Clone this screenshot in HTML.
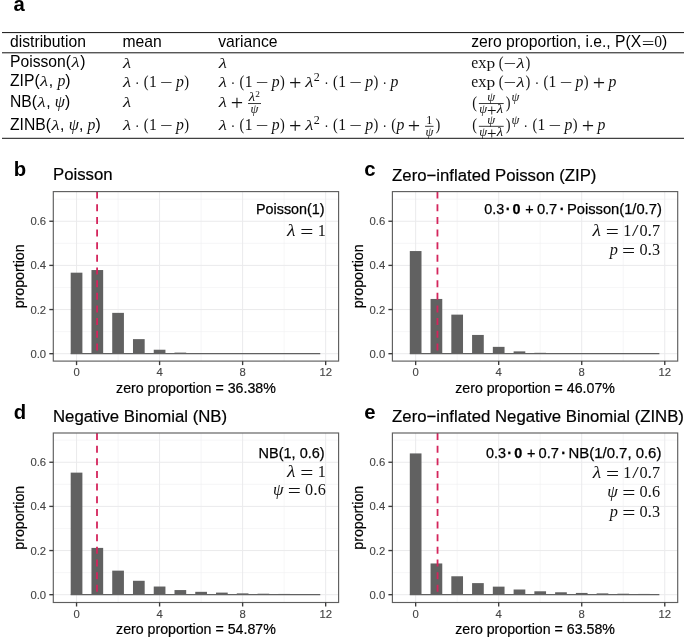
<!DOCTYPE html>
<html><head><meta charset="utf-8"><title>figure</title>
<style>
html,body{margin:0;padding:0;background:#fff;}
svg{display:block;will-change:transform;}
text{font-family:"Liberation Sans", sans-serif;fill:#111;}
.m{font-family:"Liberation Serif", serif;}
.mi{font-family:"Liberation Serif", serif;font-style:italic;}
.tk{font-size:11.3px;fill:#444;stroke:#444;stroke-width:0.12px;}
.ax{font-size:14.2px;fill:#000;stroke:#000;stroke-width:0.2px;}
.ti{font-size:16.75px;fill:#000;stroke:#000;stroke-width:0.2px;}
.lb{font-size:20.3px;font-weight:bold;fill:#000;}
.th{font-size:15.7px;fill:#000;}
.an{font-size:14.4px;fill:#000;stroke:#000;stroke-width:0.25px;}
</style></head><body>

<svg width="685" height="637" viewBox="0 0 685 637">

<rect x="0" y="0" width="685" height="637" fill="#ffffff"/>

<g>

<text class="lb" x="13.6" y="10.6">a</text>

<line x1="2" x2="684" y1="32.6" y2="32.6" stroke="#111" stroke-width="1"/>

<line x1="2" x2="684" y1="52.8" y2="52.8" stroke="#111" stroke-width="1"/>

<line x1="2" x2="684" y1="138.3" y2="138.3" stroke="#111" stroke-width="1"/>

<text class="th" x="10.00" y="46.70">distribution</text>
<text class="th" x="122.50" y="46.70">mean</text>
<text class="th" x="218.20" y="46.70">variance</text>
<text class="th" x="471.20" y="46.70">zero proportion, i.e., P(X</text>
<text class="m" font-size="15.65" fill="#333" transform="translate(641.72,48.62) scale(1.435,1.12)">=</text>
<text class="m" font-size="15.65" fill="#333" transform="translate(654.14,46.70) scale(1.000,1.0)">0</text>
<text class="th" x="661.96" y="46.70">)</text>
<text class="th" x="10.00" y="67.10">Poisson(</text>
<text class="mi" font-size="15.65" fill="#303030" transform="translate(71.54,67.10) scale(1.211,1.0)">λ</text>
<text class="th" x="80.21" y="67.10">)</text>
<text class="th" x="10.00" y="86.40">ZIP(</text>
<text class="mi" font-size="15.65" fill="#303030" transform="translate(40.11,86.40) scale(1.211,1.0)">λ</text>
<text class="th" x="48.78" y="86.40">,</text>
<text class="mi" font-size="15.65" fill="#303030" transform="translate(57.38,86.40) scale(1.006,1.0)">p</text>
<text class="th" x="65.25" y="86.40">)</text>
<text class="th" x="10.00" y="106.80">NB(</text>
<text class="mi" font-size="15.65" fill="#303030" transform="translate(37.49,106.80) scale(1.211,1.0)">λ</text>
<text class="th" x="46.16" y="106.80">,</text>
<text class="mi" font-size="15.65" fill="#303030" transform="translate(54.76,106.80) scale(1.048,1.0)">ψ</text>
<text class="th" x="64.95" y="106.80">)</text>
<text class="th" x="10.00" y="129.60">ZINB(</text>
<text class="mi" font-size="15.65" fill="#303030" transform="translate(51.45,129.60) scale(1.211,1.0)">λ</text>
<text class="th" x="60.11" y="129.60">,</text>
<text class="mi" font-size="15.65" fill="#303030" transform="translate(68.72,129.60) scale(1.048,1.0)">ψ</text>
<text class="th" x="78.90" y="129.60">,</text>
<text class="mi" font-size="15.65" fill="#303030" transform="translate(87.50,129.60) scale(1.006,1.0)">p</text>
<text class="th" x="95.38" y="129.60">)</text>
<text class="mi" font-size="15.65" fill="#303030" transform="translate(122.96,67.50) scale(1.211,1.0)">λ</text>
<text class="mi" font-size="15.65" fill="#303030" transform="translate(122.96,86.80) scale(1.211,1.0)">λ</text>
<text class="m" font-size="15.65" fill="#303030" transform="translate(135.06,88.09) scale(0.850,1.0)">·</text>
<text class="m" font-size="15.65" fill="#303030" transform="translate(143.85,87.18) scale(0.920,1.1)">(</text>
<text class="m" font-size="15.65" fill="#303030" transform="translate(149.01,86.80) scale(1.000,1.0)">1</text>
<text class="m" font-size="15.65" fill="#303030" transform="translate(160.07,88.09) scale(1.435,1.0)">−</text>
<text class="mi" font-size="15.65" fill="#303030" transform="translate(175.96,86.80) scale(1.006,1.0)">p</text>
<text class="m" font-size="15.65" fill="#303030" transform="translate(184.22,87.18) scale(0.920,1.1)">)</text>
<text class="mi" font-size="15.65" fill="#303030" transform="translate(122.96,107.20) scale(1.211,1.0)">λ</text>
<text class="mi" font-size="15.65" fill="#303030" transform="translate(122.96,130.00) scale(1.211,1.0)">λ</text>
<text class="m" font-size="15.65" fill="#303030" transform="translate(135.06,131.29) scale(0.850,1.0)">·</text>
<text class="m" font-size="15.65" fill="#303030" transform="translate(143.85,130.38) scale(0.920,1.1)">(</text>
<text class="m" font-size="15.65" fill="#303030" transform="translate(149.01,130.00) scale(1.000,1.0)">1</text>
<text class="m" font-size="15.65" fill="#303030" transform="translate(160.07,131.29) scale(1.435,1.0)">−</text>
<text class="mi" font-size="15.65" fill="#303030" transform="translate(175.96,130.00) scale(1.006,1.0)">p</text>
<text class="m" font-size="15.65" fill="#303030" transform="translate(184.22,130.38) scale(0.920,1.1)">)</text>
<text class="mi" font-size="15.65" fill="#303030" transform="translate(218.66,67.50) scale(1.211,1.0)">λ</text>
<text class="mi" font-size="15.65" fill="#303030" transform="translate(218.66,86.80) scale(1.211,1.0)">λ</text>
<text class="m" font-size="15.65" fill="#303030" transform="translate(230.76,88.09) scale(0.850,1.0)">·</text>
<text class="m" font-size="15.65" fill="#303030" transform="translate(239.55,87.18) scale(0.920,1.1)">(</text>
<text class="m" font-size="15.65" fill="#303030" transform="translate(244.71,86.80) scale(1.000,1.0)">1</text>
<text class="m" font-size="15.65" fill="#303030" transform="translate(255.77,88.09) scale(1.435,1.0)">−</text>
<text class="mi" font-size="15.65" fill="#303030" transform="translate(271.66,86.80) scale(1.006,1.0)">p</text>
<text class="m" font-size="15.65" fill="#303030" transform="translate(279.92,87.18) scale(0.920,1.1)">)</text>
<text class="m" font-size="15.65" fill="#303030" transform="translate(288.97,90.07) scale(1.407,1.38)">+</text>
<text class="mi" font-size="15.65" fill="#303030" transform="translate(305.20,86.80) scale(1.211,1.0)">λ</text>
<text class="m" font-size="12.05" fill="#303030" transform="translate(313.87,80.85) scale(1.000,1.0)">2</text>
<text class="m" font-size="15.65" fill="#303030" transform="translate(324.27,88.09) scale(0.850,1.0)">·</text>
<text class="m" font-size="15.65" fill="#303030" transform="translate(333.06,87.18) scale(0.920,1.1)">(</text>
<text class="m" font-size="15.65" fill="#303030" transform="translate(338.22,86.80) scale(1.000,1.0)">1</text>
<text class="m" font-size="15.65" fill="#303030" transform="translate(349.28,88.09) scale(1.435,1.0)">−</text>
<text class="mi" font-size="15.65" fill="#303030" transform="translate(365.17,86.80) scale(1.006,1.0)">p</text>
<text class="m" font-size="15.65" fill="#303030" transform="translate(373.43,87.18) scale(0.920,1.1)">)</text>
<text class="m" font-size="15.65" fill="#303030" transform="translate(382.56,88.09) scale(0.850,1.0)">·</text>
<text class="mi" font-size="15.65" fill="#303030" transform="translate(390.43,86.80) scale(1.006,1.0)">p</text>
<text class="mi" font-size="15.65" fill="#303030" transform="translate(218.66,107.20) scale(1.211,1.0)">λ</text>
<text class="m" font-size="15.65" fill="#303030" transform="translate(230.68,110.47) scale(1.407,1.38)">+</text>
<text class="mi" font-size="12.05" fill="#303030" transform="translate(248.68,101.49) scale(1.211,1.0)">λ</text>
<text class="m" font-size="9.28" fill="#303030" transform="translate(255.35,96.91) scale(1.000,1.0)">2</text>
<text class="mi" font-size="12.05" fill="#303030" transform="translate(250.60,113.46) scale(1.048,1.0)">ψ</text>
<line x1="248.03" x2="261.01" y1="103.52" y2="103.52" stroke="#222" stroke-width="0.9"/>
<text class="mi" font-size="15.65" fill="#303030" transform="translate(218.66,130.00) scale(1.211,1.0)">λ</text>
<text class="m" font-size="15.65" fill="#303030" transform="translate(230.76,131.29) scale(0.850,1.0)">·</text>
<text class="m" font-size="15.65" fill="#303030" transform="translate(239.55,130.38) scale(0.920,1.1)">(</text>
<text class="m" font-size="15.65" fill="#303030" transform="translate(244.71,130.00) scale(1.000,1.0)">1</text>
<text class="m" font-size="15.65" fill="#303030" transform="translate(255.77,131.29) scale(1.435,1.0)">−</text>
<text class="mi" font-size="15.65" fill="#303030" transform="translate(271.66,130.00) scale(1.006,1.0)">p</text>
<text class="m" font-size="15.65" fill="#303030" transform="translate(279.92,130.38) scale(0.920,1.1)">)</text>
<text class="m" font-size="15.65" fill="#303030" transform="translate(288.97,133.27) scale(1.407,1.38)">+</text>
<text class="mi" font-size="15.65" fill="#303030" transform="translate(305.20,130.00) scale(1.211,1.0)">λ</text>
<text class="m" font-size="12.05" fill="#303030" transform="translate(313.87,124.05) scale(1.000,1.0)">2</text>
<text class="m" font-size="15.65" fill="#303030" transform="translate(324.27,131.29) scale(0.850,1.0)">·</text>
<text class="m" font-size="15.65" fill="#303030" transform="translate(333.06,130.38) scale(0.920,1.1)">(</text>
<text class="m" font-size="15.65" fill="#303030" transform="translate(338.22,130.00) scale(1.000,1.0)">1</text>
<text class="m" font-size="15.65" fill="#303030" transform="translate(349.28,131.29) scale(1.435,1.0)">−</text>
<text class="mi" font-size="15.65" fill="#303030" transform="translate(365.17,130.00) scale(1.006,1.0)">p</text>
<text class="m" font-size="15.65" fill="#303030" transform="translate(373.43,130.38) scale(0.920,1.1)">)</text>
<text class="m" font-size="15.65" fill="#303030" transform="translate(382.56,131.29) scale(0.850,1.0)">·</text>
<text class="m" font-size="15.65" fill="#303030" transform="translate(391.36,130.38) scale(0.920,1.1)">(</text>
<text class="mi" font-size="15.65" fill="#303030" transform="translate(396.52,130.00) scale(1.006,1.0)">p</text>
<text class="m" font-size="15.65" fill="#303030" transform="translate(407.74,133.27) scale(1.407,1.38)">+</text>
<text class="m" font-size="12.05" fill="#303030" transform="translate(426.30,124.29) scale(1.000,1.0)">1</text>
<text class="mi" font-size="12.05" fill="#303030" transform="translate(425.39,136.26) scale(1.048,1.0)">ψ</text>
<line x1="425.09" x2="433.54" y1="126.32" y2="126.32" stroke="#222" stroke-width="0.9"/>
<text class="m" font-size="15.65" fill="#303030" transform="translate(435.51,130.38) scale(0.920,1.1)">)</text>
<text class="m" font-size="15.65" fill="#303030" transform="translate(471.20,67.50) scale(1.000,1.0)">e</text>
<text class="m" font-size="15.65" fill="#303030" transform="translate(478.15,67.50) scale(1.056,1.0)">x</text>
<text class="m" font-size="15.65" fill="#303030" transform="translate(486.41,67.50) scale(1.112,1.0)">p</text>
<text class="m" font-size="15.65" fill="#303030" transform="translate(498.66,67.88) scale(0.920,1.1)">(</text>
<text class="m" font-size="15.65" fill="#303030" transform="translate(503.57,68.79) scale(1.435,1.0)">−</text>
<text class="mi" font-size="15.65" fill="#303030" transform="translate(516.45,67.50) scale(1.211,1.0)">λ</text>
<text class="m" font-size="15.65" fill="#303030" transform="translate(525.51,67.88) scale(0.920,1.1)">)</text>
<text class="m" font-size="15.65" fill="#303030" transform="translate(471.20,86.80) scale(1.000,1.0)">e</text>
<text class="m" font-size="15.65" fill="#303030" transform="translate(478.15,86.80) scale(1.056,1.0)">x</text>
<text class="m" font-size="15.65" fill="#303030" transform="translate(486.41,86.80) scale(1.112,1.0)">p</text>
<text class="m" font-size="15.65" fill="#303030" transform="translate(498.66,87.18) scale(0.920,1.1)">(</text>
<text class="m" font-size="15.65" fill="#303030" transform="translate(503.57,88.09) scale(1.435,1.0)">−</text>
<text class="mi" font-size="15.65" fill="#303030" transform="translate(516.45,86.80) scale(1.211,1.0)">λ</text>
<text class="m" font-size="15.65" fill="#303030" transform="translate(525.51,87.18) scale(0.920,1.1)">)</text>
<text class="m" font-size="15.65" fill="#303030" transform="translate(534.64,88.09) scale(0.850,1.0)">·</text>
<text class="m" font-size="15.65" fill="#303030" transform="translate(543.43,87.18) scale(0.920,1.1)">(</text>
<text class="m" font-size="15.65" fill="#303030" transform="translate(548.59,86.80) scale(1.000,1.0)">1</text>
<text class="m" font-size="15.65" fill="#303030" transform="translate(559.65,88.09) scale(1.435,1.0)">−</text>
<text class="mi" font-size="15.65" fill="#303030" transform="translate(575.54,86.80) scale(1.006,1.0)">p</text>
<text class="m" font-size="15.65" fill="#303030" transform="translate(583.80,87.18) scale(0.920,1.1)">)</text>
<text class="m" font-size="15.65" fill="#303030" transform="translate(592.85,90.07) scale(1.407,1.38)">+</text>
<text class="mi" font-size="15.65" fill="#303030" transform="translate(608.62,86.80) scale(1.006,1.0)">p</text>
<text class="m" font-size="15.65" fill="#303030" transform="translate(472.13,107.58) scale(0.920,1.1)">(</text>
<text class="mi" font-size="12.05" fill="#303030" transform="translate(487.37,101.49) scale(1.048,1.0)">ψ</text>
<text class="mi" font-size="12.05" fill="#303030" transform="translate(479.17,113.46) scale(1.048,1.0)">ψ</text>
<text class="m" font-size="12.05" fill="#303030" transform="translate(486.92,115.98) scale(1.407,1.38)">+</text>
<text class="mi" font-size="12.05" fill="#303030" transform="translate(496.74,113.46) scale(1.211,1.0)">λ</text>
<line x1="478.87" x2="503.71" y1="103.52" y2="103.52" stroke="#222" stroke-width="0.9"/>
<text class="m" font-size="15.65" fill="#303030" transform="translate(505.68,107.58) scale(0.920,1.1)">)</text>
<text class="mi" font-size="12.05" fill="#303030" transform="translate(511.38,101.25) scale(1.048,1.0)">ψ</text>
<text class="m" font-size="15.65" fill="#303030" transform="translate(472.13,130.38) scale(0.920,1.1)">(</text>
<text class="mi" font-size="12.05" fill="#303030" transform="translate(487.37,124.29) scale(1.048,1.0)">ψ</text>
<text class="mi" font-size="12.05" fill="#303030" transform="translate(479.17,136.26) scale(1.048,1.0)">ψ</text>
<text class="m" font-size="12.05" fill="#303030" transform="translate(486.92,138.78) scale(1.407,1.38)">+</text>
<text class="mi" font-size="12.05" fill="#303030" transform="translate(496.74,136.26) scale(1.211,1.0)">λ</text>
<line x1="478.87" x2="503.71" y1="126.32" y2="126.32" stroke="#222" stroke-width="0.9"/>
<text class="m" font-size="15.65" fill="#303030" transform="translate(505.68,130.38) scale(0.920,1.1)">)</text>
<text class="mi" font-size="12.05" fill="#303030" transform="translate(511.38,124.05) scale(1.048,1.0)">ψ</text>
<text class="m" font-size="15.65" fill="#303030" transform="translate(523.60,131.29) scale(0.850,1.0)">·</text>
<text class="m" font-size="15.65" fill="#303030" transform="translate(532.39,130.38) scale(0.920,1.1)">(</text>
<text class="m" font-size="15.65" fill="#303030" transform="translate(537.55,130.00) scale(1.000,1.0)">1</text>
<text class="m" font-size="15.65" fill="#303030" transform="translate(548.60,131.29) scale(1.435,1.0)">−</text>
<text class="mi" font-size="15.65" fill="#303030" transform="translate(564.50,130.00) scale(1.006,1.0)">p</text>
<text class="m" font-size="15.65" fill="#303030" transform="translate(572.76,130.38) scale(0.920,1.1)">)</text>
<text class="m" font-size="15.65" fill="#303030" transform="translate(581.81,133.27) scale(1.407,1.38)">+</text>
<text class="mi" font-size="15.65" fill="#303030" transform="translate(597.58,130.00) scale(1.006,1.0)">p</text>
</g>

<g>
<rect x="53.3" y="191.6" width="285.3" height="169.5" fill="#fff"/>
<line x1="118.07" x2="118.07" y1="191.6" y2="361.1" stroke="#f0f0f2" stroke-width="0.6"/>
<line x1="201.11" x2="201.11" y1="191.6" y2="361.1" stroke="#f0f0f2" stroke-width="0.6"/>
<line x1="284.15" x2="284.15" y1="191.6" y2="361.1" stroke="#f0f0f2" stroke-width="0.6"/>
<line x1="53.3" x2="338.6" y1="331.62" y2="331.62" stroke="#f0f0f2" stroke-width="0.6"/>
<line x1="53.3" x2="338.6" y1="287.48" y2="287.48" stroke="#f0f0f2" stroke-width="0.6"/>
<line x1="53.3" x2="338.6" y1="243.32" y2="243.32" stroke="#f0f0f2" stroke-width="0.6"/>
<line x1="53.3" x2="338.6" y1="199.18" y2="199.18" stroke="#f0f0f2" stroke-width="0.6"/>
<line x1="76.55" x2="76.55" y1="191.6" y2="361.1" stroke="#eaeaec" stroke-width="1"/>
<line x1="159.59" x2="159.59" y1="191.6" y2="361.1" stroke="#eaeaec" stroke-width="1"/>
<line x1="242.63" x2="242.63" y1="191.6" y2="361.1" stroke="#eaeaec" stroke-width="1"/>
<line x1="325.67" x2="325.67" y1="191.6" y2="361.1" stroke="#eaeaec" stroke-width="1"/>
<line x1="53.3" x2="338.6" y1="353.70" y2="353.70" stroke="#eaeaec" stroke-width="1"/>
<line x1="53.3" x2="338.6" y1="309.55" y2="309.55" stroke="#eaeaec" stroke-width="1"/>
<line x1="53.3" x2="338.6" y1="265.40" y2="265.40" stroke="#eaeaec" stroke-width="1"/>
<line x1="53.3" x2="338.6" y1="221.25" y2="221.25" stroke="#eaeaec" stroke-width="1"/>
<rect x="70.70" y="272.68" width="11.7" height="81.02" fill="#616161"/>
<rect x="91.46" y="270.04" width="11.7" height="83.66" fill="#616161"/>
<rect x="112.22" y="312.86" width="11.7" height="40.84" fill="#616161"/>
<rect x="132.98" y="339.13" width="11.7" height="14.57" fill="#616161"/>
<rect x="153.74" y="349.73" width="11.7" height="3.97" fill="#616161"/>
<rect x="174.50" y="352.60" width="11.7" height="1.10" fill="#616161"/>
<rect x="195.26" y="353.37" width="11.7" height="0.33" fill="#616161"/>
<line x1="70.70" x2="320.27" y1="353.7" y2="353.7" stroke="#616161" stroke-width="1.2"/>
<line x1="97.10" x2="97.10" y1="191.6" y2="353.7" stroke="#d4255c" stroke-width="1.8" stroke-dasharray="7,5.65"/>
<rect x="53.3" y="191.6" width="285.3" height="169.5" fill="none" stroke="#5e5e5e" stroke-width="1.15"/>
<line x1="76.55" x2="76.55" y1="361.1" y2="365.1" stroke="#3c3c3c" stroke-width="1.35"/>
<text class="tk" x="76.55" y="376.20" text-anchor="middle">0</text>
<line x1="159.59" x2="159.59" y1="361.1" y2="365.1" stroke="#3c3c3c" stroke-width="1.35"/>
<text class="tk" x="159.59" y="376.20" text-anchor="middle">4</text>
<line x1="242.63" x2="242.63" y1="361.1" y2="365.1" stroke="#3c3c3c" stroke-width="1.35"/>
<text class="tk" x="242.63" y="376.20" text-anchor="middle">8</text>
<line x1="325.67" x2="325.67" y1="361.1" y2="365.1" stroke="#3c3c3c" stroke-width="1.35"/>
<text class="tk" x="325.67" y="376.20" text-anchor="middle">12</text>
<line x1="49.30" x2="53.3" y1="353.70" y2="353.70" stroke="#3c3c3c" stroke-width="1.35"/>
<text class="tk" x="46.10" y="357.70" text-anchor="end">0.0</text>
<line x1="49.30" x2="53.3" y1="309.55" y2="309.55" stroke="#3c3c3c" stroke-width="1.35"/>
<text class="tk" x="46.10" y="313.55" text-anchor="end">0.2</text>
<line x1="49.30" x2="53.3" y1="265.40" y2="265.40" stroke="#3c3c3c" stroke-width="1.35"/>
<text class="tk" x="46.10" y="269.40" text-anchor="end">0.4</text>
<line x1="49.30" x2="53.3" y1="221.25" y2="221.25" stroke="#3c3c3c" stroke-width="1.35"/>
<text class="tk" x="46.10" y="225.25" text-anchor="end">0.6</text>
<text class="ax" x="195.95" y="392.70" text-anchor="middle">zero proportion = 36.38%</text>
<text class="ax" transform="translate(24.10,276.35) rotate(-90)" text-anchor="middle">proportion</text>
<text class="ti" x="53.00" y="180.4">Poisson</text>
<text class="lb" x="13.8" y="175.8">b</text>
<text class="an" x="256.00" y="214.10" textLength="68.60" lengthAdjust="spacingAndGlyphs">Poisson(1)</text>
<text class="mi" font-size="16.20" fill="#2a2a2a" transform="translate(287.12,236.00) scale(1.211,1.0)">λ</text>
<text class="m" font-size="16.20" fill="#2a2a2a" transform="translate(300.34,237.98) scale(1.435,1.12)">=</text>
<text class="m" font-size="16.20" fill="#2a2a2a" transform="translate(317.70,236.00) scale(1.000,1.0)">1</text>
</g>
<g>
<rect x="392.4" y="191.6" width="285.3" height="169.5" fill="#fff"/>
<line x1="457.17" x2="457.17" y1="191.6" y2="361.1" stroke="#f0f0f2" stroke-width="0.6"/>
<line x1="540.21" x2="540.21" y1="191.6" y2="361.1" stroke="#f0f0f2" stroke-width="0.6"/>
<line x1="623.25" x2="623.25" y1="191.6" y2="361.1" stroke="#f0f0f2" stroke-width="0.6"/>
<line x1="392.4" x2="677.7" y1="331.62" y2="331.62" stroke="#f0f0f2" stroke-width="0.6"/>
<line x1="392.4" x2="677.7" y1="287.48" y2="287.48" stroke="#f0f0f2" stroke-width="0.6"/>
<line x1="392.4" x2="677.7" y1="243.32" y2="243.32" stroke="#f0f0f2" stroke-width="0.6"/>
<line x1="392.4" x2="677.7" y1="199.18" y2="199.18" stroke="#f0f0f2" stroke-width="0.6"/>
<line x1="415.65" x2="415.65" y1="191.6" y2="361.1" stroke="#eaeaec" stroke-width="1"/>
<line x1="498.69" x2="498.69" y1="191.6" y2="361.1" stroke="#eaeaec" stroke-width="1"/>
<line x1="581.73" x2="581.73" y1="191.6" y2="361.1" stroke="#eaeaec" stroke-width="1"/>
<line x1="664.77" x2="664.77" y1="191.6" y2="361.1" stroke="#eaeaec" stroke-width="1"/>
<line x1="392.4" x2="677.7" y1="353.70" y2="353.70" stroke="#eaeaec" stroke-width="1"/>
<line x1="392.4" x2="677.7" y1="309.55" y2="309.55" stroke="#eaeaec" stroke-width="1"/>
<line x1="392.4" x2="677.7" y1="265.40" y2="265.40" stroke="#eaeaec" stroke-width="1"/>
<line x1="392.4" x2="677.7" y1="221.25" y2="221.25" stroke="#eaeaec" stroke-width="1"/>
<rect x="409.80" y="251.05" width="11.7" height="102.65" fill="#616161"/>
<rect x="430.56" y="298.95" width="11.7" height="54.75" fill="#616161"/>
<rect x="451.32" y="314.63" width="11.7" height="39.07" fill="#616161"/>
<rect x="472.08" y="334.94" width="11.7" height="18.76" fill="#616161"/>
<rect x="492.84" y="346.86" width="11.7" height="6.84" fill="#616161"/>
<rect x="513.60" y="351.38" width="11.7" height="2.32" fill="#616161"/>
<rect x="534.36" y="352.82" width="11.7" height="0.88" fill="#616161"/>
<rect x="555.12" y="353.26" width="11.7" height="0.44" fill="#616161"/>
<line x1="409.80" x2="659.37" y1="353.7" y2="353.7" stroke="#616161" stroke-width="1.2"/>
<line x1="437.45" x2="437.45" y1="191.6" y2="353.7" stroke="#d4255c" stroke-width="1.8" stroke-dasharray="7,5.65"/>
<rect x="392.4" y="191.6" width="285.3" height="169.5" fill="none" stroke="#5e5e5e" stroke-width="1.15"/>
<line x1="415.65" x2="415.65" y1="361.1" y2="365.1" stroke="#3c3c3c" stroke-width="1.35"/>
<text class="tk" x="415.65" y="376.20" text-anchor="middle">0</text>
<line x1="498.69" x2="498.69" y1="361.1" y2="365.1" stroke="#3c3c3c" stroke-width="1.35"/>
<text class="tk" x="498.69" y="376.20" text-anchor="middle">4</text>
<line x1="581.73" x2="581.73" y1="361.1" y2="365.1" stroke="#3c3c3c" stroke-width="1.35"/>
<text class="tk" x="581.73" y="376.20" text-anchor="middle">8</text>
<line x1="664.77" x2="664.77" y1="361.1" y2="365.1" stroke="#3c3c3c" stroke-width="1.35"/>
<text class="tk" x="664.77" y="376.20" text-anchor="middle">12</text>
<line x1="388.40" x2="392.4" y1="353.70" y2="353.70" stroke="#3c3c3c" stroke-width="1.35"/>
<text class="tk" x="385.20" y="357.70" text-anchor="end">0.0</text>
<line x1="388.40" x2="392.4" y1="309.55" y2="309.55" stroke="#3c3c3c" stroke-width="1.35"/>
<text class="tk" x="385.20" y="313.55" text-anchor="end">0.2</text>
<line x1="388.40" x2="392.4" y1="265.40" y2="265.40" stroke="#3c3c3c" stroke-width="1.35"/>
<text class="tk" x="385.20" y="269.40" text-anchor="end">0.4</text>
<line x1="388.40" x2="392.4" y1="221.25" y2="221.25" stroke="#3c3c3c" stroke-width="1.35"/>
<text class="tk" x="385.20" y="225.25" text-anchor="end">0.6</text>
<text class="ax" x="535.05" y="392.70" text-anchor="middle">zero proportion = 46.07%</text>
<text class="ax" transform="translate(363.20,276.35) rotate(-90)" text-anchor="middle">proportion</text>
<text class="ti" x="392.10" y="180.5">Zero−inflated Poisson (ZIP)</text>
<text class="lb" x="364.3" y="175.8">c</text>
<text class="an" x="566.90" y="214.10" textLength="94.90" lengthAdjust="spacingAndGlyphs">Poisson(1/0.7)</text>
<text class="an" x="484.30" y="214.10" textLength="20.00" lengthAdjust="spacingAndGlyphs">0.3</text>
<text class="an" x="505.70" y="214.10" font-weight="bold">·</text>
<text class="an" x="512.60" y="214.10" font-weight="bold">0</text>
<text class="an" x="525.30" y="214.10">+</text>
<text class="an" x="536.90" y="214.10" textLength="20.40" lengthAdjust="spacingAndGlyphs">0.7</text>
<text class="an" x="559.70" y="214.10" font-weight="bold">·</text>
<text class="mi" font-size="16.20" fill="#2a2a2a" transform="translate(592.61,236.30) scale(1.211,1.0)">λ</text>
<text class="m" font-size="16.20" fill="#2a2a2a" transform="translate(605.84,238.28) scale(1.435,1.12)">=</text>
<text class="m" font-size="16.20" fill="#2a2a2a" transform="translate(623.20,236.30) scale(1.000,1.0)">1</text>
<text class="m" font-size="16.20" fill="#2a2a2a" transform="translate(632.08,236.30) scale(1.450,1.0)">/</text>
<text class="m" font-size="16.20" fill="#2a2a2a" transform="translate(639.40,236.30) scale(1.000,1.0)">0</text>
<text class="m" font-size="16.20" fill="#2a2a2a" transform="translate(647.50,236.30) scale(1.112,1.0)">.</text>
<text class="m" font-size="16.20" fill="#2a2a2a" transform="translate(652.00,236.30) scale(1.000,1.0)">7</text>
<text class="mi" font-size="16.20" fill="#2a2a2a" transform="translate(609.64,254.60) scale(1.006,1.0)">p</text>
<text class="m" font-size="16.20" fill="#2a2a2a" transform="translate(622.04,256.58) scale(1.435,1.12)">=</text>
<text class="m" font-size="16.20" fill="#2a2a2a" transform="translate(639.40,254.60) scale(1.000,1.0)">0</text>
<text class="m" font-size="16.20" fill="#2a2a2a" transform="translate(647.50,254.60) scale(1.112,1.0)">.</text>
<text class="m" font-size="16.20" fill="#2a2a2a" transform="translate(652.00,254.60) scale(1.000,1.0)">3</text>
</g>
<g>
<rect x="53.3" y="433.0" width="285.3" height="169.5" fill="#fff"/>
<line x1="118.07" x2="118.07" y1="433.0" y2="602.5" stroke="#f0f0f2" stroke-width="0.6"/>
<line x1="201.11" x2="201.11" y1="433.0" y2="602.5" stroke="#f0f0f2" stroke-width="0.6"/>
<line x1="284.15" x2="284.15" y1="433.0" y2="602.5" stroke="#f0f0f2" stroke-width="0.6"/>
<line x1="53.3" x2="338.6" y1="572.62" y2="572.62" stroke="#f0f0f2" stroke-width="0.6"/>
<line x1="53.3" x2="338.6" y1="528.48" y2="528.48" stroke="#f0f0f2" stroke-width="0.6"/>
<line x1="53.3" x2="338.6" y1="484.33" y2="484.33" stroke="#f0f0f2" stroke-width="0.6"/>
<line x1="53.3" x2="338.6" y1="440.18" y2="440.18" stroke="#f0f0f2" stroke-width="0.6"/>
<line x1="76.55" x2="76.55" y1="433.0" y2="602.5" stroke="#eaeaec" stroke-width="1"/>
<line x1="159.59" x2="159.59" y1="433.0" y2="602.5" stroke="#eaeaec" stroke-width="1"/>
<line x1="242.63" x2="242.63" y1="433.0" y2="602.5" stroke="#eaeaec" stroke-width="1"/>
<line x1="325.67" x2="325.67" y1="433.0" y2="602.5" stroke="#eaeaec" stroke-width="1"/>
<line x1="53.3" x2="338.6" y1="594.70" y2="594.70" stroke="#eaeaec" stroke-width="1"/>
<line x1="53.3" x2="338.6" y1="550.55" y2="550.55" stroke="#eaeaec" stroke-width="1"/>
<line x1="53.3" x2="338.6" y1="506.40" y2="506.40" stroke="#eaeaec" stroke-width="1"/>
<line x1="53.3" x2="338.6" y1="462.25" y2="462.25" stroke="#eaeaec" stroke-width="1"/>
<rect x="70.70" y="472.63" width="11.7" height="122.07" fill="#616161"/>
<rect x="91.46" y="547.90" width="11.7" height="46.80" fill="#616161"/>
<rect x="112.22" y="570.64" width="11.7" height="24.06" fill="#616161"/>
<rect x="132.98" y="580.79" width="11.7" height="13.91" fill="#616161"/>
<rect x="153.74" y="586.53" width="11.7" height="8.17" fill="#616161"/>
<rect x="174.50" y="590.06" width="11.7" height="4.64" fill="#616161"/>
<rect x="195.26" y="591.83" width="11.7" height="2.87" fill="#616161"/>
<rect x="216.02" y="592.60" width="11.7" height="2.10" fill="#616161"/>
<rect x="236.78" y="593.38" width="11.7" height="1.32" fill="#616161"/>
<rect x="257.54" y="593.71" width="11.7" height="0.99" fill="#616161"/>
<rect x="278.30" y="593.93" width="11.7" height="0.77" fill="#616161"/>
<rect x="299.06" y="594.04" width="11.7" height="0.66" fill="#616161"/>
<line x1="70.70" x2="320.27" y1="594.7" y2="594.7" stroke="#616161" stroke-width="1.2"/>
<line x1="97.00" x2="97.00" y1="433.0" y2="594.7" stroke="#d4255c" stroke-width="1.8" stroke-dasharray="7,5.65"/>
<rect x="53.3" y="433.0" width="285.3" height="169.5" fill="none" stroke="#5e5e5e" stroke-width="1.15"/>
<line x1="76.55" x2="76.55" y1="602.5" y2="606.5" stroke="#3c3c3c" stroke-width="1.35"/>
<text class="tk" x="76.55" y="617.60" text-anchor="middle">0</text>
<line x1="159.59" x2="159.59" y1="602.5" y2="606.5" stroke="#3c3c3c" stroke-width="1.35"/>
<text class="tk" x="159.59" y="617.60" text-anchor="middle">4</text>
<line x1="242.63" x2="242.63" y1="602.5" y2="606.5" stroke="#3c3c3c" stroke-width="1.35"/>
<text class="tk" x="242.63" y="617.60" text-anchor="middle">8</text>
<line x1="325.67" x2="325.67" y1="602.5" y2="606.5" stroke="#3c3c3c" stroke-width="1.35"/>
<text class="tk" x="325.67" y="617.60" text-anchor="middle">12</text>
<line x1="49.30" x2="53.3" y1="594.70" y2="594.70" stroke="#3c3c3c" stroke-width="1.35"/>
<text class="tk" x="46.10" y="598.70" text-anchor="end">0.0</text>
<line x1="49.30" x2="53.3" y1="550.55" y2="550.55" stroke="#3c3c3c" stroke-width="1.35"/>
<text class="tk" x="46.10" y="554.55" text-anchor="end">0.2</text>
<line x1="49.30" x2="53.3" y1="506.40" y2="506.40" stroke="#3c3c3c" stroke-width="1.35"/>
<text class="tk" x="46.10" y="510.40" text-anchor="end">0.4</text>
<line x1="49.30" x2="53.3" y1="462.25" y2="462.25" stroke="#3c3c3c" stroke-width="1.35"/>
<text class="tk" x="46.10" y="466.25" text-anchor="end">0.6</text>
<text class="ax" x="195.95" y="634.10" text-anchor="middle">zero proportion = 54.87%</text>
<text class="ax" transform="translate(24.10,517.75) rotate(-90)" text-anchor="middle">proportion</text>
<text class="ti" x="53.00" y="422.3">Negative Binomial (NB)</text>
<text class="lb" x="13.8" y="418.9">d</text>
<text class="an" x="258.60" y="457.80" textLength="66.00" lengthAdjust="spacingAndGlyphs">NB(1, 0.6)</text>
<text class="mi" font-size="16.20" fill="#2a2a2a" transform="translate(287.12,477.30) scale(1.211,1.0)">λ</text>
<text class="m" font-size="16.20" fill="#2a2a2a" transform="translate(300.34,479.28) scale(1.435,1.12)">=</text>
<text class="m" font-size="16.20" fill="#2a2a2a" transform="translate(317.70,477.30) scale(1.000,1.0)">1</text>
<text class="mi" font-size="16.20" fill="#2a2a2a" transform="translate(272.94,495.40) scale(1.048,1.0)">ψ</text>
<text class="m" font-size="16.20" fill="#2a2a2a" transform="translate(287.74,497.38) scale(1.435,1.12)">=</text>
<text class="m" font-size="16.20" fill="#2a2a2a" transform="translate(305.10,495.40) scale(1.000,1.0)">0</text>
<text class="m" font-size="16.20" fill="#2a2a2a" transform="translate(313.20,495.40) scale(1.112,1.0)">.</text>
<text class="m" font-size="16.20" fill="#2a2a2a" transform="translate(317.70,495.40) scale(1.000,1.0)">6</text>
</g>
<g>
<rect x="392.4" y="433.0" width="285.3" height="169.5" fill="#fff"/>
<line x1="457.17" x2="457.17" y1="433.0" y2="602.5" stroke="#f0f0f2" stroke-width="0.6"/>
<line x1="540.21" x2="540.21" y1="433.0" y2="602.5" stroke="#f0f0f2" stroke-width="0.6"/>
<line x1="623.25" x2="623.25" y1="433.0" y2="602.5" stroke="#f0f0f2" stroke-width="0.6"/>
<line x1="392.4" x2="677.7" y1="572.62" y2="572.62" stroke="#f0f0f2" stroke-width="0.6"/>
<line x1="392.4" x2="677.7" y1="528.48" y2="528.48" stroke="#f0f0f2" stroke-width="0.6"/>
<line x1="392.4" x2="677.7" y1="484.33" y2="484.33" stroke="#f0f0f2" stroke-width="0.6"/>
<line x1="392.4" x2="677.7" y1="440.18" y2="440.18" stroke="#f0f0f2" stroke-width="0.6"/>
<line x1="415.65" x2="415.65" y1="433.0" y2="602.5" stroke="#eaeaec" stroke-width="1"/>
<line x1="498.69" x2="498.69" y1="433.0" y2="602.5" stroke="#eaeaec" stroke-width="1"/>
<line x1="581.73" x2="581.73" y1="433.0" y2="602.5" stroke="#eaeaec" stroke-width="1"/>
<line x1="664.77" x2="664.77" y1="433.0" y2="602.5" stroke="#eaeaec" stroke-width="1"/>
<line x1="392.4" x2="677.7" y1="594.70" y2="594.70" stroke="#eaeaec" stroke-width="1"/>
<line x1="392.4" x2="677.7" y1="550.55" y2="550.55" stroke="#eaeaec" stroke-width="1"/>
<line x1="392.4" x2="677.7" y1="506.40" y2="506.40" stroke="#eaeaec" stroke-width="1"/>
<line x1="392.4" x2="677.7" y1="462.25" y2="462.25" stroke="#eaeaec" stroke-width="1"/>
<rect x="409.80" y="453.42" width="11.7" height="141.28" fill="#616161"/>
<rect x="430.56" y="563.46" width="11.7" height="31.24" fill="#616161"/>
<rect x="451.32" y="576.27" width="11.7" height="18.43" fill="#616161"/>
<rect x="472.08" y="583.11" width="11.7" height="11.59" fill="#616161"/>
<rect x="492.84" y="586.64" width="11.7" height="8.06" fill="#616161"/>
<rect x="513.60" y="589.51" width="11.7" height="5.19" fill="#616161"/>
<rect x="534.36" y="591.28" width="11.7" height="3.42" fill="#616161"/>
<rect x="555.12" y="592.27" width="11.7" height="2.43" fill="#616161"/>
<rect x="575.88" y="592.93" width="11.7" height="1.77" fill="#616161"/>
<rect x="596.64" y="593.38" width="11.7" height="1.32" fill="#616161"/>
<rect x="617.40" y="593.71" width="11.7" height="0.99" fill="#616161"/>
<rect x="638.16" y="593.93" width="11.7" height="0.77" fill="#616161"/>
<line x1="409.80" x2="659.37" y1="594.7" y2="594.7" stroke="#616161" stroke-width="1.2"/>
<line x1="437.55" x2="437.55" y1="433.0" y2="594.7" stroke="#d4255c" stroke-width="1.8" stroke-dasharray="7,5.65"/>
<rect x="392.4" y="433.0" width="285.3" height="169.5" fill="none" stroke="#5e5e5e" stroke-width="1.15"/>
<line x1="415.65" x2="415.65" y1="602.5" y2="606.5" stroke="#3c3c3c" stroke-width="1.35"/>
<text class="tk" x="415.65" y="617.60" text-anchor="middle">0</text>
<line x1="498.69" x2="498.69" y1="602.5" y2="606.5" stroke="#3c3c3c" stroke-width="1.35"/>
<text class="tk" x="498.69" y="617.60" text-anchor="middle">4</text>
<line x1="581.73" x2="581.73" y1="602.5" y2="606.5" stroke="#3c3c3c" stroke-width="1.35"/>
<text class="tk" x="581.73" y="617.60" text-anchor="middle">8</text>
<line x1="664.77" x2="664.77" y1="602.5" y2="606.5" stroke="#3c3c3c" stroke-width="1.35"/>
<text class="tk" x="664.77" y="617.60" text-anchor="middle">12</text>
<line x1="388.40" x2="392.4" y1="594.70" y2="594.70" stroke="#3c3c3c" stroke-width="1.35"/>
<text class="tk" x="385.20" y="598.70" text-anchor="end">0.0</text>
<line x1="388.40" x2="392.4" y1="550.55" y2="550.55" stroke="#3c3c3c" stroke-width="1.35"/>
<text class="tk" x="385.20" y="554.55" text-anchor="end">0.2</text>
<line x1="388.40" x2="392.4" y1="506.40" y2="506.40" stroke="#3c3c3c" stroke-width="1.35"/>
<text class="tk" x="385.20" y="510.40" text-anchor="end">0.4</text>
<line x1="388.40" x2="392.4" y1="462.25" y2="462.25" stroke="#3c3c3c" stroke-width="1.35"/>
<text class="tk" x="385.20" y="466.25" text-anchor="end">0.6</text>
<text class="ax" x="535.05" y="634.10" text-anchor="middle">zero proportion = 63.58%</text>
<text class="ax" transform="translate(363.20,517.75) rotate(-90)" text-anchor="middle">proportion</text>
<text class="ti" x="392.10" y="422.4">Zero−inflated Negative Binomial (ZINB)</text>
<text class="lb" x="364.3" y="418.9">e</text>
<text class="an" x="568.50" y="457.80" textLength="92.90" lengthAdjust="spacingAndGlyphs">NB(1/0.7, 0.6)</text>
<text class="an" x="485.90" y="457.80" textLength="20.00" lengthAdjust="spacingAndGlyphs">0.3</text>
<text class="an" x="507.30" y="457.80" font-weight="bold">·</text>
<text class="an" x="514.20" y="457.80" font-weight="bold">0</text>
<text class="an" x="526.90" y="457.80">+</text>
<text class="an" x="538.50" y="457.80" textLength="20.40" lengthAdjust="spacingAndGlyphs">0.7</text>
<text class="an" x="561.30" y="457.80" font-weight="bold">·</text>
<text class="mi" font-size="16.20" fill="#2a2a2a" transform="translate(592.71,477.70) scale(1.211,1.0)">λ</text>
<text class="m" font-size="16.20" fill="#2a2a2a" transform="translate(605.94,479.68) scale(1.435,1.12)">=</text>
<text class="m" font-size="16.20" fill="#2a2a2a" transform="translate(623.30,477.70) scale(1.000,1.0)">1</text>
<text class="m" font-size="16.20" fill="#2a2a2a" transform="translate(632.18,477.70) scale(1.450,1.0)">/</text>
<text class="m" font-size="16.20" fill="#2a2a2a" transform="translate(639.50,477.70) scale(1.000,1.0)">0</text>
<text class="m" font-size="16.20" fill="#2a2a2a" transform="translate(647.60,477.70) scale(1.112,1.0)">.</text>
<text class="m" font-size="16.20" fill="#2a2a2a" transform="translate(652.10,477.70) scale(1.000,1.0)">7</text>
<text class="mi" font-size="16.20" fill="#2a2a2a" transform="translate(607.34,497.40) scale(1.048,1.0)">ψ</text>
<text class="m" font-size="16.20" fill="#2a2a2a" transform="translate(622.14,499.38) scale(1.435,1.12)">=</text>
<text class="m" font-size="16.20" fill="#2a2a2a" transform="translate(639.50,497.40) scale(1.000,1.0)">0</text>
<text class="m" font-size="16.20" fill="#2a2a2a" transform="translate(647.60,497.40) scale(1.112,1.0)">.</text>
<text class="m" font-size="16.20" fill="#2a2a2a" transform="translate(652.10,497.40) scale(1.000,1.0)">6</text>
<text class="mi" font-size="16.20" fill="#2a2a2a" transform="translate(609.74,517.00) scale(1.006,1.0)">p</text>
<text class="m" font-size="16.20" fill="#2a2a2a" transform="translate(622.14,518.98) scale(1.435,1.12)">=</text>
<text class="m" font-size="16.20" fill="#2a2a2a" transform="translate(639.50,517.00) scale(1.000,1.0)">0</text>
<text class="m" font-size="16.20" fill="#2a2a2a" transform="translate(647.60,517.00) scale(1.112,1.0)">.</text>
<text class="m" font-size="16.20" fill="#2a2a2a" transform="translate(652.10,517.00) scale(1.000,1.0)">3</text>
</g>
</svg>
</body></html>
